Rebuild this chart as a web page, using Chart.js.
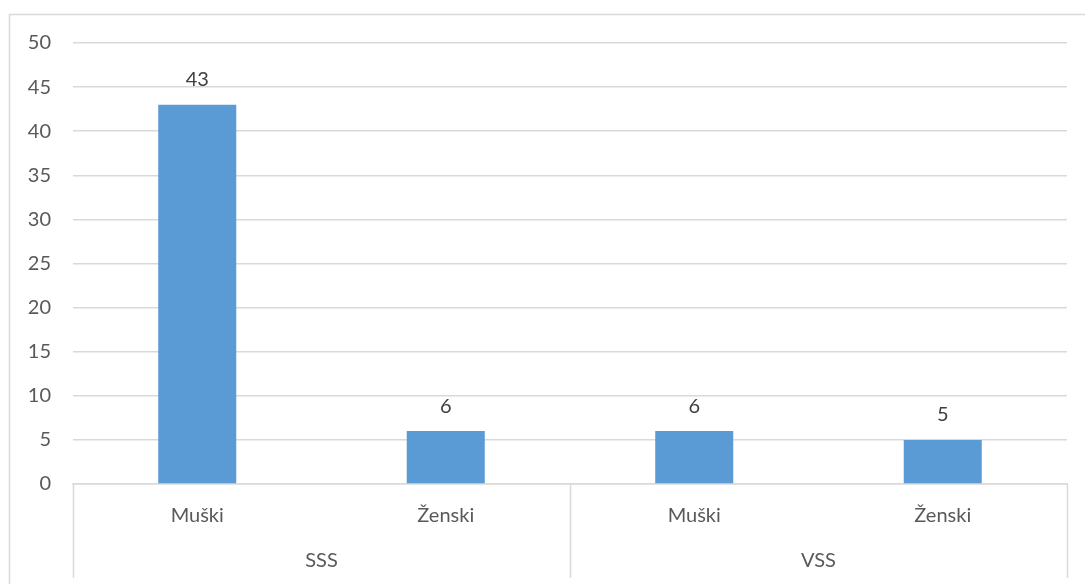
<!DOCTYPE html>
<html>
<head>
<meta charset="utf-8">
<script src="https://cdn.jsdelivr.net/npm/chart.js@4"></script>
<style>
  html, body { margin: 0; padding: 0; background: #fff; }
  #wrap { width: 1085px; height: 584px; position: relative; }
</style>
</head>
<body>
<div id="wrap"><canvas id="chart" width="1085" height="584"></canvas></div>
<script>
// podaci
const categories = ['Muški', 'Ženski', 'Muški', 'Ženski'];
const groups = ['SSS', 'VSS'];
const groupSize = 2;
const values = [43, 6, 6, 5];
const yTicks = [0, 5, 10, 15, 20, 25, 30, 35, 40, 45, 50];

const FONT = 'Lato, "Open Sans", sans-serif';
const GRID = '#d9d9d9';

// okvir, grupe i brojevi iznad stupaca
const extras = {
  id: 'extras',
  beforeDraw(chart) {
    const c = chart.ctx;
    c.save();
    c.strokeStyle = GRID;
    c.lineWidth = 1.5;
    c.strokeRect(9.5, 14.5, 1200, 700);
    c.restore();
  },
  afterDraw(chart) {
    const c = chart.ctx;
    const x = chart.scales.x;
    const area = chart.chartArea;
    const bottom = 578;
    c.save();
    c.strokeStyle = GRID;
    c.lineWidth = 1.5;
    // vertikalne crte izmedju grupa
    const step = (area.right - area.left) / categories.length;
    for (let g = 0; g <= groups.length; g++) {
      const px = Math.round(area.left + g * groupSize * step) + 0.5;
      c.beginPath();
      c.moveTo(px, area.bottom);
      c.lineTo(px, bottom);
      c.stroke();
    }
    c.fillStyle = '#595959';
    c.font = '20px ' + FONT;
    c.textAlign = 'center';
    c.textBaseline = 'middle';
    groups.forEach((g, i) => {
      const a = x.getPixelForValue(i * groupSize);
      const b = x.getPixelForValue(i * groupSize + groupSize - 1);
      c.fillText(g, (a + b) / 2, 561);
    });
    // vrijednosti
    c.fillStyle = '#404040';
    chart.getDatasetMeta(0).data.forEach((bar, i) => {
      c.fillText(values[i], bar.x, bar.y - 25);
    });
    c.restore();
  }
};

new Chart(document.getElementById('chart'), {
  type: 'bar',
  data: {
    labels: categories,
    datasets: [{
      data: values,
      backgroundColor: '#5b9bd5',
      borderWidth: 0,
      categoryPercentage: 1,
      barPercentage: 0.314
    }]
  },
  options: {
    responsive: false,
    animation: false,
    events: [],
    layout: { padding: { left: 0, top: 43, right: 18, bottom: 0 } },
    plugins: { legend: { display: false }, tooltip: { enabled: false } },
    scales: {
      x: {
        grid: { display: false, drawTicks: false },
        border: { display: true, color: GRID, width: 1.5 },
        ticks: { color: '#595959', font: { family: FONT, size: 20 }, padding: 20, maxRotation: 0 },
        afterFit: s => { s.height = 100; }
      },
      y: {
        min: 0,
        max: 50,
        afterBuildTicks: s => { s.ticks = yTicks.map(v => ({ value: v })); },
        grid: { color: GRID, lineWidth: 1.5, drawTicks: false },
        border: { display: false },
        ticks: { color: '#595959', font: { family: FONT, size: 20 }, padding: 22 },
        afterFit: s => { s.width = 73; }
      }
    }
  },
  plugins: [extras]
});
</script>
</body>
</html>
